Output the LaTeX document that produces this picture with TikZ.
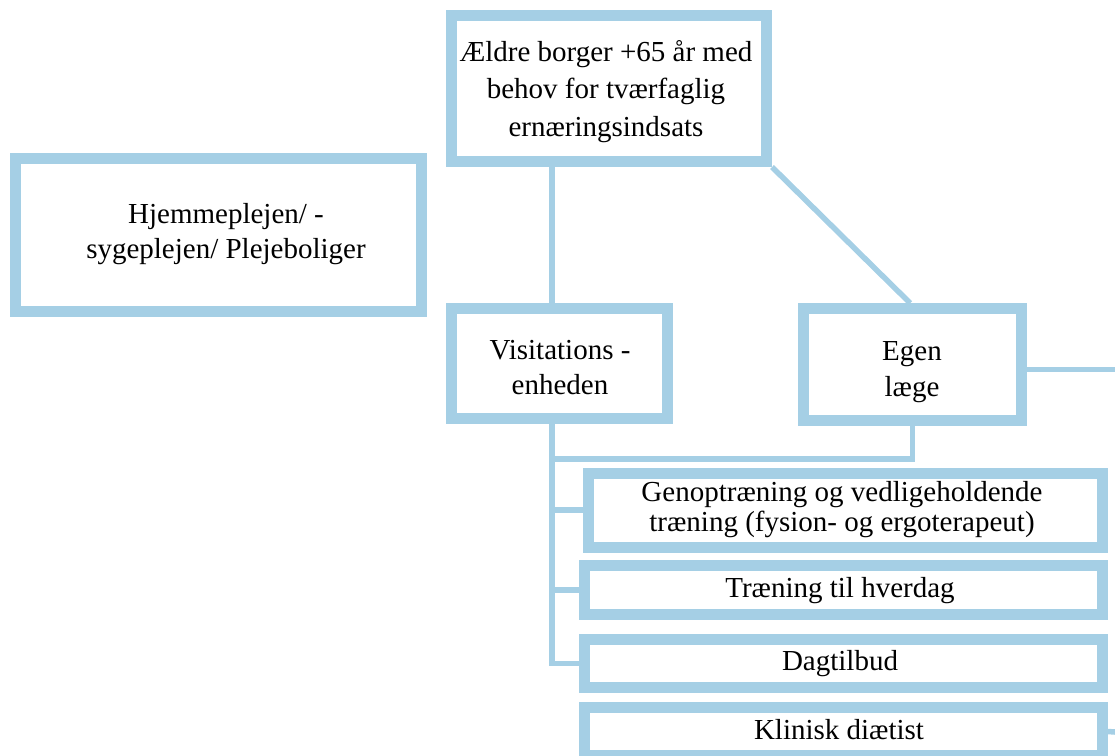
\documentclass[tikz,border=0pt]{standalone}
\usepackage{fontspec}
\setmainfont{Liberation Serif}
\definecolor{frameblue}{RGB}{165,207,229}
\begin{document}
\begin{tikzpicture}[x=1pt,y=-1pt,
  box/.style={draw=frameblue, line width=11pt, fill=white, inner sep=0pt},
  link/.style={draw=frameblue, line width=5.5pt},
  txt/.style={align=center, text=black, inner sep=0pt,
    font=\fontsize{29}{#1}\selectfont},
  txt/.default=35]
\useasboundingbox (0,0) rectangle (1115,755);

% frames
\node[box, minimum width=315pt, minimum height=146pt] (top) at (609,88.5) {};
\node[box, minimum width=405.5pt, minimum height=152.5pt] (hjem) at (218.25,234.75) {};
\node[box, minimum width=216pt, minimum height=110pt] (vis) at (559.5,363.5) {};
\node[box, minimum width=217.5pt, minimum height=111.75pt] (egen) at (912.25,364.6) {};
\node[box, minimum width=514pt, minimum height=74pt] (gen) at (845.5,510) {};
\node[box, minimum width=518pt, minimum height=48.5pt] (tren) at (843.5,589.75) {};
\node[box, minimum width=518pt, minimum height=48pt] (dag) at (843.5,663.5) {};
\node[box, minimum width=518pt, minimum height=48pt] (klin) at (843.5,731.5) {};

% captions
\node[txt=37.5] (top-t) at (606,91.5)
  {Ældre borger +65 år med\\behov for tværfaglig\\ernæringsindsats};
\node[txt] (hjem-t) at (226,234.5) {Hjemmeplejen/ -\\sygeplejen/ Plejeboliger};
\node[txt] (vis-t) at (560,368) {Visitations -\\enheden};
\node[txt=36] (egen-t) at (912,372) {Egen\\læge};
\node[txt=30] (gen-t) at (842,510) {Genoptræning og vedligeholdende\\træning (fysion- og ergoterapeut)};
\node[txt] (tren-t) at (840,591) {Træning til hverdag};
\node[txt] (dag-t) at (840,663.5) {Dagtilbud};
\node[txt] (klin-t) at (839,730) {Klinisk diætist};

% anchor points for the connector lines
\coordinate (trunk) at (552,459);
\coordinate (egenout) at (1115,369.5);
\coordinate (klinout) at (1115,732);

% connectors
\draw[link] (top.south -| trunk) -- (vis.north -| trunk);
\draw[link] (top.south east) -- ([xshift=-2pt]egen.north);
\draw[link] (vis.south -| trunk) |- (dag.west);
\draw[link] (egen.south) |- (trunk);
\draw[link] (trunk |- gen.west) -- (gen.west);
\draw[link] (trunk |- tren.west) -- (tren.west);
\draw[link] (egen.east |- egenout) -- (egenout);
\draw[link] (klin.east) -- (klinout);
\end{tikzpicture}
\end{document}
